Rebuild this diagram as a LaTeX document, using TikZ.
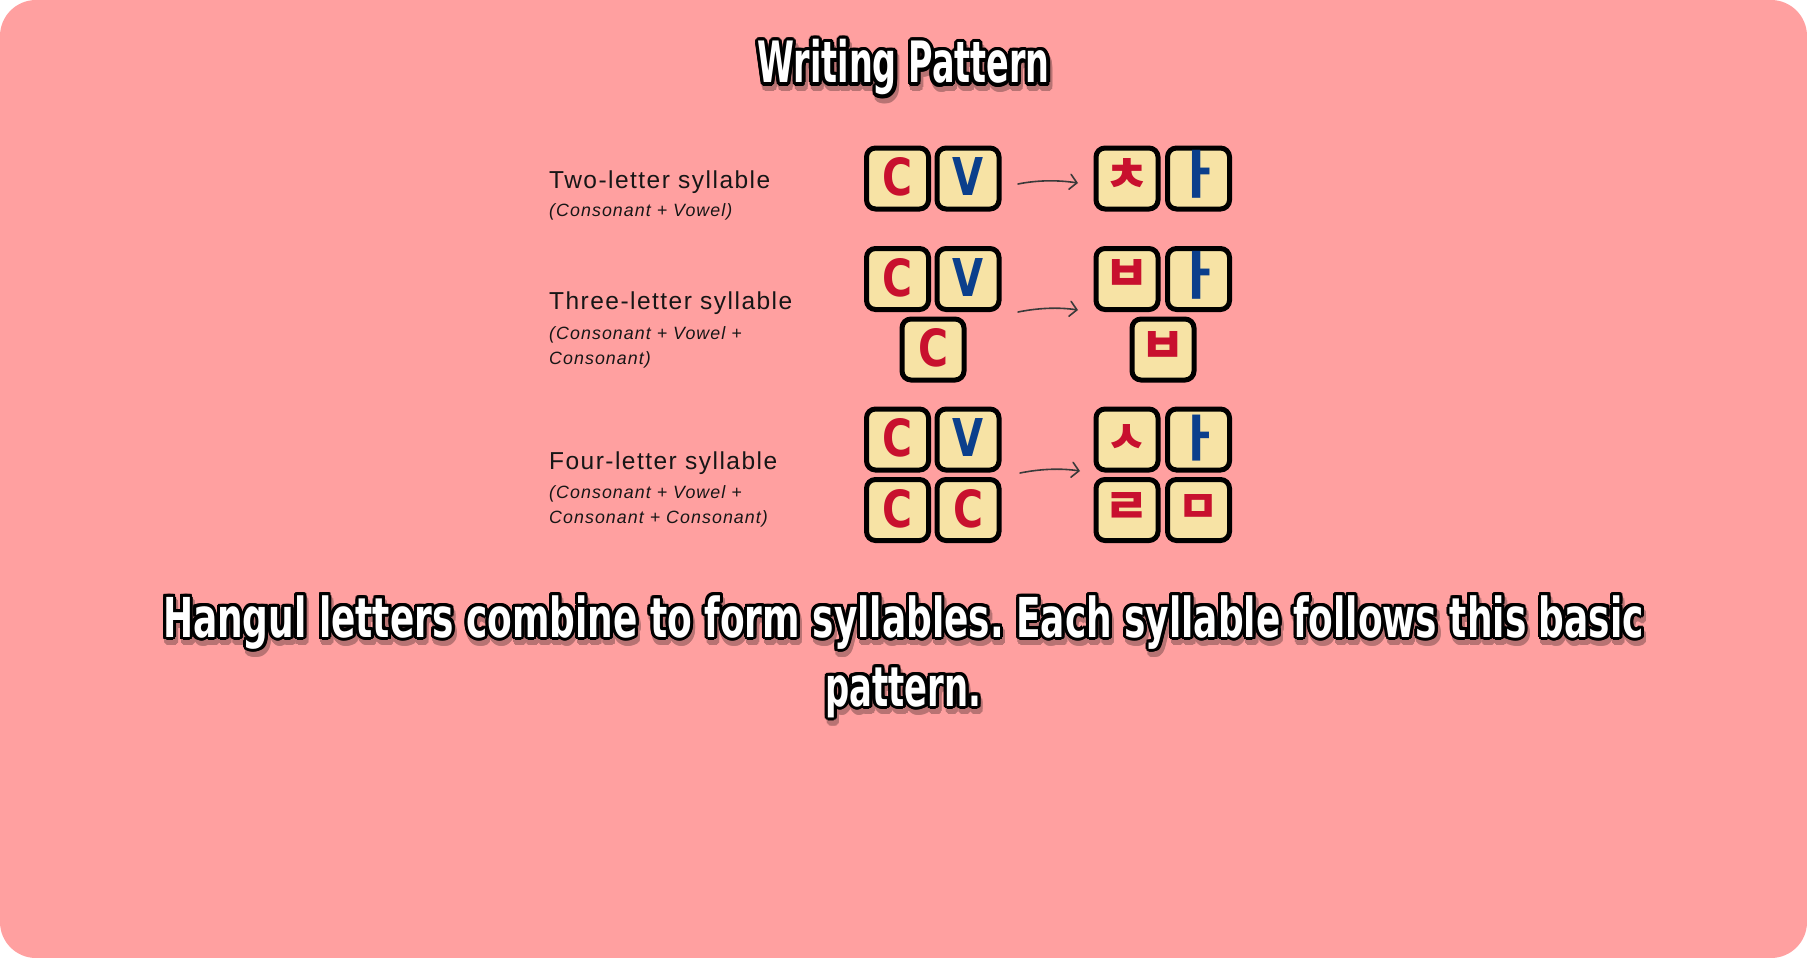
\documentclass[tikz,border=0pt]{standalone}
\usepackage{fontspec}
\usepackage{graphicx}
\usetikzlibrary{arrows.meta}
\setmainfont{Liberation Sans}
\newfontfamily\dispfont{DejaVu Sans Condensed Bold}
\newfontfamily\labelfont{Liberation Sans}[LetterSpace=6]
\newfontfamily\krfont{Noto Sans CJK KR}
\frenchspacing

\definecolor{bg}{HTML}{FFA0A0}
\definecolor{tilefill}{HTML}{F7E3A5}
\definecolor{conred}{HTML}{C8102E}
\definecolor{vowblue}{HTML}{0B3F8C}
\definecolor{labeltext}{HTML}{161616}
\definecolor{arrowgray}{HTML}{3A3A3A}

% display text squeezed to a given width
\newcommand\fitted[2]{\resizebox{#1}{\height}{#2}}
% the same text repeated round a circle, giving its outline
\newsavebox\strokebox
\newcommand\outlinecopies[3]{% #1 width of the letters, #2 outline radius, #3 text
  \sbox\strokebox{\resizebox{#1}{\height}{#3}}%
  \foreach \a in {0,22.5,...,337.5}{%
    \rlap{\hspace{\fpeval{#2*cosd(\a)}pt}\raisebox{\fpeval{#2*sind(\a)}pt}{\usebox\strokebox}}}%
  \usebox\strokebox}

% tile letters: a Latin capital, and a Hangul jamo
\newcommand\latin[3]{% colour, width, letter
  \raisebox{-17pt}[0pt][0pt]{\color{#1}\resizebox{#2}{38pt}{\dispfont #3}}}
\newcommand\jamo[4]{% colour, height, lift, letter
  \raisebox{\dimexpr-#2/2+#3\relax}[0pt][0pt]{\color{#1}\raisebox{\depth}{\resizebox*{!}{#2}{\krfont\bfseries #4}}}}

\newcommand\titletext{\fontsize{57}{60}\selectfont Writing Pattern}
\newcommand\capone{\fontsize{55}{60}\selectfont Hangul letters combine to form syllables. Each syllable follows this basic}
\newcommand\captwo{\fontsize{55}{60}\selectfont pattern.}

\tikzset{
  disp/.style={anchor=base, inner sep=0pt, text=white, font=\dispfont},
  displine/.style={disp, text=black},
  lbl/.style={anchor=base west, inner sep=0pt, text=labeltext, font=\labelfont\fontsize{24.5}{28}\selectfont},
  sub/.style={anchor=base west, inner sep=0pt, text=labeltext, font=\labelfont\itshape\fontsize{17.8}{25}\selectfont},
  tile/.style={draw=black, line width=5pt, rounded corners=9pt, fill=tilefill,
    minimum width=62pt, minimum height=61pt, inner sep=0pt},
  arrowline/.style={draw=arrowgray, line width=1.6pt, line cap=round,
    -{Straight Barb[length=7pt,width=15pt,line cap=round]}},
}

\begin{document}
\begin{tikzpicture}[x=1pt,y=-1pt]
\useasboundingbox (0,0) rectangle (1807,958);
\fill[white] (0,0) rectangle (1807,958);
\fill[bg, rounded corners=36pt] (0,0) rectangle (1807,958);

% heading
\begin{scope}[transparency group, opacity=0.28]
\node[displine] (titleshadow) at (905.5,88) {\outlinecopies{292pt}{3.6}{\titletext}};
\end{scope}
\node[displine] (titleoutline) at (903.5,83) {\outlinecopies{292pt}{3.4}{\titletext}};
\node[disp] (title) at (903.5,83) {\fitted{292pt}{\titletext}};

% row labels
\node[lbl] (lab1) at (549,188) {Two-letter syllable};
\node[sub] (lab1a) at (549,216) {(Consonant + Vowel)};
\node[lbl] (lab2) at (549,309) {Three-letter syllable};
\node[sub] (lab2a) at (549,339) {(Consonant + Vowel +};
\node[sub] (lab2b) at (549,364) {Consonant)};
\node[lbl] (lab3) at (549,469) {Four-letter syllable};
\node[sub] (lab3a) at (549,498) {(Consonant + Vowel +};
\node[sub] (lab3b) at (549,523) {Consonant + Consonant)};

% row 1: C V -> ㅊ ㅏ
\node[tile] (p1c) at (897.5,178.5) {\latin{conred}{30pt}{C}};
\node[tile] (p1v) at (968,178.5) {\latin{vowblue}{31pt}{V}};
\node[tile] (k1c) at (1127,178.5) {\jamo{conred}{34pt}{3pt}{ㅊ}};
\node[tile] (k1v) at (1198.5,178.5) {\jamo{vowblue}{48pt}{4pt}{ㅏ}};

% row 2: C V C -> ㅂ ㅏ ㅂ
\node[tile] (p2c) at (897.5,279) {\latin{conred}{30pt}{C}};
\node[tile] (p2v) at (968,279) {\latin{vowblue}{31pt}{V}};
\node[tile] (p2f) at (933,349.5) {\latin{conred}{30pt}{C}};
\node[tile] (k2c) at (1127,279) {\jamo{conred}{32pt}{3pt}{ㅂ}};
\node[tile] (k2v) at (1198.5,279) {\jamo{vowblue}{48pt}{4pt}{ㅏ}};
\node[tile] (k2f) at (1163,349.5) {\jamo{conred}{32pt}{2pt}{ㅂ}};

% row 3: C V C C -> ㅅ ㅏ ㄹ ㅁ
\node[tile] (p3c) at (897.5,439.5) {\latin{conred}{30pt}{C}};
\node[tile] (p3v) at (968,439.5) {\latin{vowblue}{31pt}{V}};
\node[tile] (p3f) at (897.5,510) {\latin{conred}{30pt}{C}};
\node[tile] (p3g) at (968,510) {\latin{conred}{30pt}{C}};
\node[tile] (k3c) at (1127,439.5) {\jamo{conred}{29pt}{1pt}{ㅅ}};
\node[tile] (k3v) at (1198.5,439.5) {\jamo{vowblue}{46pt}{1pt}{ㅏ}};
\node[tile] (k3f) at (1127,510) {\jamo{conred}{32pt}{1.5pt}{ㄹ}};
\node[tile] (k3g) at (1198.5,510) {\jamo{conred}{29pt}{1.5pt}{ㅁ}};

% arrows between the patterns and the syllables
\coordinate (a1s) at (1018,184);
\coordinate (a1e) at (1078,183);
\coordinate (a2s) at (1018,312);
\coordinate (a2e) at (1078,310);
\coordinate (a3s) at (1020,473);
\coordinate (a3e) at (1080,471);
\draw[arrowline] (a1s) .. controls (1038,180) and (1058,180) .. (a1e);
\draw[arrowline] (a2s) .. controls (1038,308) and (1058,307) .. (a2e);
\draw[arrowline] (a3s) .. controls (1040,469) and (1060,468) .. (a3e);

% caption
\begin{scope}[transparency group, opacity=0.28]
\node[displine] (cap1shadow) at (905.5,642) {\outlinecopies{1481pt}{3.3}{\capone}};
\node[displine] (cap2shadow) at (905.5,711) {\outlinecopies{156pt}{3.3}{\captwo}};
\end{scope}
\node[displine] (cap1outline) at (903.5,637) {\outlinecopies{1481pt}{3}{\capone}};
\node[displine] (cap2outline) at (903.5,706) {\outlinecopies{156pt}{3}{\captwo}};
\node[disp] (cap1) at (903.5,637) {\fitted{1481pt}{\capone}};
\node[disp] (cap2) at (903.5,706) {\fitted{156pt}{\captwo}};
\end{tikzpicture}
\end{document}
